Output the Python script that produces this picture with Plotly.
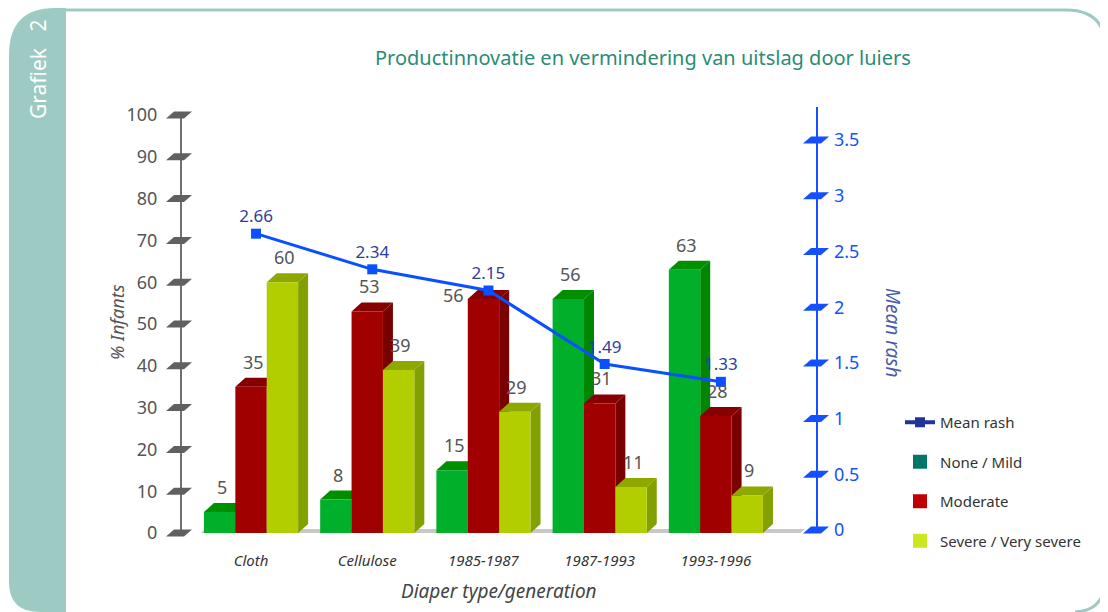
import plotly.graph_objects as go

# data
categories = ["Cloth", "Cellulose", "1985-1987", "1987-1993", "1993-1996"]
none_mild = [5, 8, 15, 56, 63]
moderate = [35, 53, 56, 31, 28]
severe = [60, 39, 29, 11, 9]
mean_rash = [2.66, 2.34, 2.15, 1.49, 1.33]
left_ticks = [0, 10, 20, 30, 40, 50, 60, 70, 80, 90, 100]
right_ticks = [0, 0.5, 1, 1.5, 2, 2.5, 3, 3.5]
right_tick_text = ["0", "0.5", "1", "1.5", "2", "2.5", "3", "3.5"]

FONT = "Noto Sans"
TEAL = "#9DCBC4"

# page geometry (pixels, as measured on the 1108x612 page);
# the html body has an 8px margin, so the figure itself is 8px smaller
PAGE_W, PAGE_H = 1108, 612
OFF = 8
L, R, T, B = 182, 817, 115, 533


def px(x):
    return (x - L) / (R - L)


def py(y):
    return (B - y) / (B - T)


def path(points):
    return "M " + " L ".join(f"{px(x)},{py(y)}" for x, y in points) + " Z"


# bar geometry in axis units
bw = 0.27
dx = 10 / 116.25
dy = 9 * 100 / (B - T)

series = [
    ("None / Mild", none_mild, -bw, "#00AF2A", "#008F00", "#008600", "#007766"),
    ("Moderate", moderate, 0, "#A00000", "#860000", "#7A0000", "#C00000"),
    ("Severe / Very severe", severe, bw, "#B2CE00", "#8EA800", "#82A000", "#CCE620"),
]

fig = go.Figure()

# floor
fx0, fx1 = -0.48, 4.68
fig.add_trace(go.Scatter(
    x=[fx0, fx1, fx1 + dx, fx0 + dx, fx0], y=[-1.2, -1.2, dy - 1.2, dy - 1.2, -1.2],
    fill="toself", fillcolor="#C8C8C8", mode="lines", line=dict(width=0),
    showlegend=False, hoverinfo="skip"))


def poly_trace(xs, ys, color):
    return go.Scatter(x=xs, y=ys, fill="toself", fillcolor=color, mode="lines",
                      line=dict(width=0, color=color), showlegend=False, hoverinfo="skip")


for name, vals, off, front, top, side, leg in series:
    tx, ty, sx, sy, frx, fry = [], [], [], [], [], []
    for i, v in enumerate(vals):
        x0 = i + off - bw / 2
        x1 = i + off + bw / 2
        tx += [x0, x1, x1 + dx, x0 + dx, x0, None]
        ty += [v, v, v + dy, v + dy, v, None]
        sx += [x1, x1 + dx, x1 + dx, x1, x1, None]
        sy += [0, dy, v + dy, v, 0, None]
        frx += [x0, x1, x1, x0, x0, None]
        fry += [0, 0, v, v, 0, None]
    fig.add_trace(poly_trace(sx, sy, side))
    fig.add_trace(poly_trace(tx, ty, top))
    fig.add_trace(poly_trace(frx, fry, front))

# bar value labels
for name, vals, off, front, top, side, leg in series:
    for i, v in enumerate(vals):
        xs, ys = 2, 25
        if name == "Moderate" and i == 2:
            xs, ys = -30, 4
        fig.add_annotation(x=i + off, y=v, text=str(v), showarrow=False, yanchor="middle",
                           xshift=xs, yshift=ys, font=dict(family=FONT, size=18, color="#555555"))

# mean rash line
fig.add_trace(go.Scatter(
    x=[i + dx / 2 for i in range(len(categories))], y=mean_rash, yaxis="y2",
    mode="lines+markers+text", text=[f"{v:.2f}" for v in mean_rash], textposition="top center",
    textfont=dict(family=FONT, size=17, color="#2E3F99"),
    line=dict(color="#0A50FF", width=3), marker=dict(symbol="square", size=10, color="#0A50FF"),
    showlegend=False, hoverinfo="skip"))

# legend entries
fig.add_trace(go.Scatter(x=[None], y=[None], name="Mean rash", mode="lines+markers",
                         line=dict(color="#1F3399", width=4),
                         marker=dict(symbol="square", size=10, color="#1F3399"), legendgroup="a"))
for name, vals, off, front, top, side, leg in series:
    fig.add_trace(go.Scatter(x=[None], y=[None], name=name, mode="markers",
                             marker=dict(symbol="square", size=14, color=leg), legendgroup=name))

shapes = []
# left band and border
shapes.append(dict(type="path", xref="paper", yref="paper", layer="below",
                   path=f"M {px(66)},{py(8)} L {px(55)},{py(8)} Q {px(9)},{py(8)} {px(9)},{py(55)} "
                        f"L {px(9)},{py(582)} Q {px(9)},{py(612)} {px(40)},{py(612)} L {px(66)},{py(612)} Z",
                   fillcolor=TEAL, line=dict(width=0)))
shapes.append(dict(type="path", xref="paper", yref="paper", layer="below",
                   path=f"M {px(60)},{py(10)} L {px(1066)},{py(10)} Q {px(1106)},{py(10)} {px(1106)},{py(50)} "
                        f"L {px(1106)},{py(575)} Q {px(1106)},{py(611)} {px(1075)},{py(612)}",
                   line=dict(color=TEAL, width=3)))
# right axis line reaches a bit above the plot
shapes.append(dict(type="line", xref="paper", yref="paper", x0=px(817), x1=px(817), y0=py(533), y1=py(107),
                   line=dict(color="#1450FF", width=2)))
# parallelogram tick marks
for v in left_ticks:
    yc = B - v * (B - T) / 100
    shapes.append(dict(type="path", xref="paper", yref="paper",
                       path=path([(166, yc + 3.5), (184, yc + 3.5), (192, yc - 3.5), (174, yc - 3.5)]),
                       fillcolor="#606060", line=dict(width=0)))
for v in right_ticks:
    yc = 530 - v * 111.4
    shapes.append(dict(type="path", xref="paper", yref="paper",
                       path=path([(803, yc + 3.5), (821, yc + 3.5), (829, yc - 3.5), (811, yc - 3.5)]),
                       fillcolor="#1450FF", line=dict(width=0)))


def note(text, x, y, size, color, angle=0):
    return dict(text=text, x=px(x), y=py(y), xref="paper", yref="paper", showarrow=False,
                xanchor="center", yanchor="middle", textangle=angle,
                font=dict(family=FONT, size=size, color=color))


fig.update_layout(
    width=PAGE_W - OFF, height=PAGE_H - OFF,
    margin=dict(l=L - OFF, r=PAGE_W - R, t=T - OFF, b=PAGE_H - B),
    paper_bgcolor="white", plot_bgcolor="white",
    shapes=shapes,
    font=dict(family=FONT, color="#555555"),
    xaxis=dict(range=[-0.594, 4.87], tickvals=list(range(len(categories))),
               ticktext=[f"<i>{c}</i>" for c in categories],
               tickfont=dict(family=FONT, size=15, color="#333333"),
               showgrid=False, zeroline=False, showline=False,
               ticks="outside", ticklen=14, tickcolor="rgba(0,0,0,0)"),
    yaxis=dict(range=[0, 100], tickvals=left_ticks, showgrid=False, zeroline=False,
               showline=True, linecolor="#707070", linewidth=2,
               tickfont=dict(family=FONT, size=18, color="#555555"), ticklabelstandoff=19),
    yaxis2=dict(overlaying="y", side="right", range=[-3 / 111.4, (B - T) / 111.4 - 3 / 111.4],
                tickvals=right_ticks, ticktext=right_tick_text, showgrid=False, zeroline=False,
                showline=False,
                tickfont=dict(family=FONT, size=18, color="#1450FF"), ticklabelstandoff=16),
    legend=dict(x=px(900), y=py(406), xanchor="left", yanchor="top",
                font=dict(family=FONT, size=15, color="#333333"), tracegroupgap=17,
                bgcolor="rgba(0,0,0,0)"),
    annotations=list(fig.layout.annotations) + [
        note("Productinnovatie en vermindering van uitslag door luiers", 643, 57, 20, "#2B8B76"),
        note("<i>% Infants</i>", 117, 322, 18, "#555555", -90),
        note("<i>Mean rash</i>", 893, 332, 19, "#4A5AA8", 90),
        note("<i>Diaper type/generation</i>", 499, 591, 19, "#444444"),
        note("Grafiek\u00a0\u00a0\u00a02", 38, 70, 21, "white", -90),
    ],
)

fig.write_html("out.html")
